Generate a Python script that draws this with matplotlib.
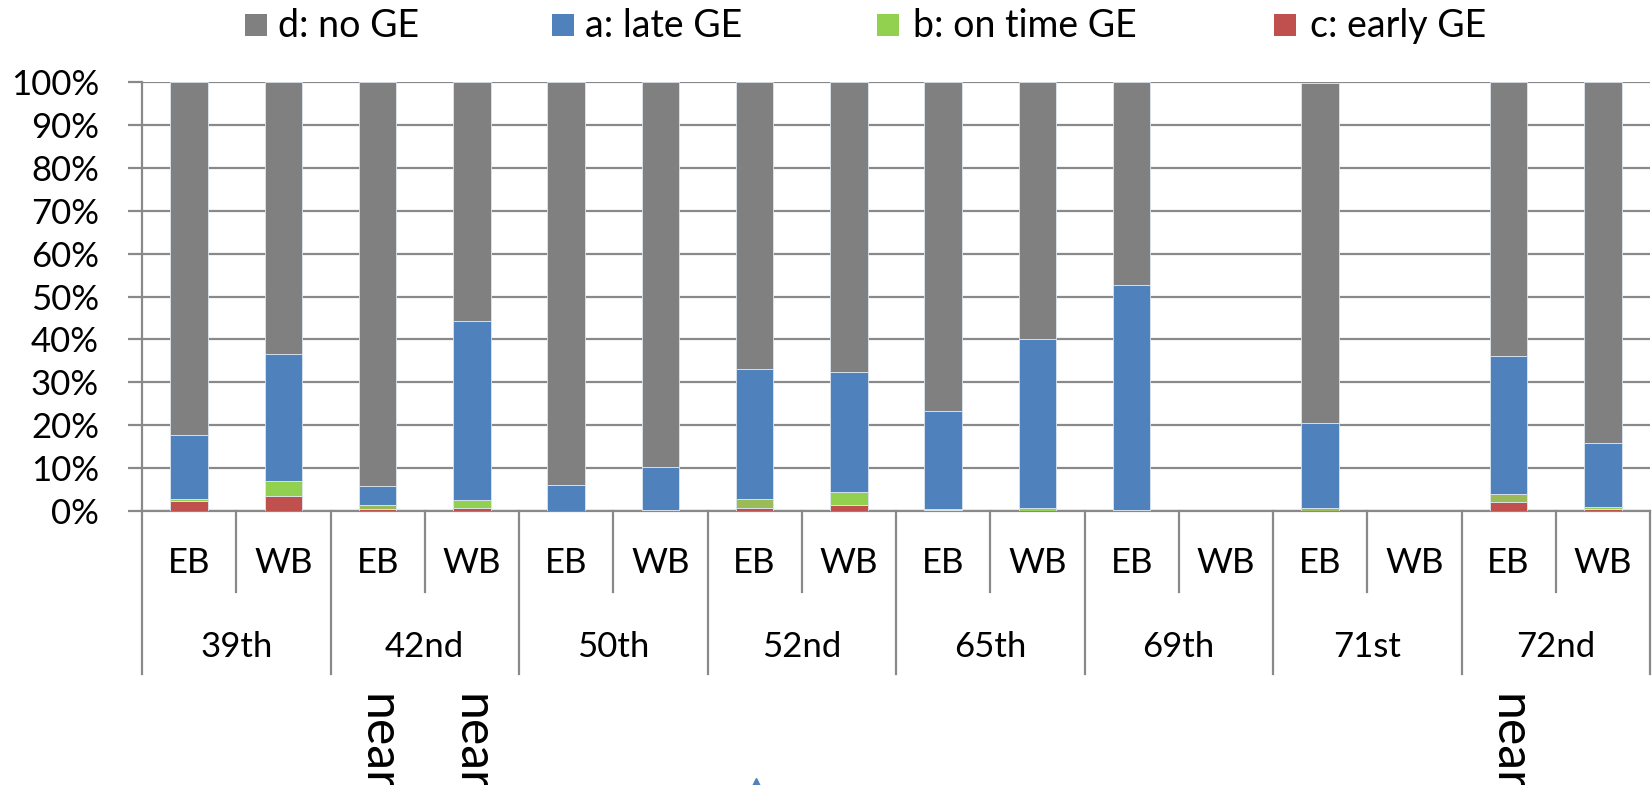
import matplotlib
matplotlib.use("Agg")
import matplotlib.pyplot as plt
import matplotlib.transforms as mtransforms
from matplotlib.patches import Rectangle
from matplotlib.lines import Line2D
import numpy as np

plt.rcParams['font.family'] = ['Lato', 'DejaVu Sans']

# ---- data -------------------------------------------------------------
streets = ["39th", "42nd", "50th", "52nd", "65th", "69th", "71st", "72nd"]
directions = ["EB", "WB"]

# share of trips (%) per street/direction, slots ordered 39th EB, 39th WB, ...
early_ge = [2.3, 3.6, 0.5, 0.8, 0.0, 0.0, 0.7, 1.4, 0.2, 0.0, 0.0, 0.0, 0.0, 0.0, 2.2, 0.5]
ontime_ge = [0.6, 3.4, 0.9, 1.8, 0.1, 0.3, 2.2, 3.0, 0.3, 0.6, 0.2, 0.0, 0.6, 0.0, 1.7, 0.4]
late_ge = [14.8, 29.6, 4.5, 41.6, 6.0, 9.9, 30.3, 28.0, 22.8, 39.4, 52.4, 0.0, 19.8, 0.0, 32.2, 15.0]
no_ge = [82.3, 63.4, 94.1, 55.8, 93.9, 89.8, 66.8, 67.6, 76.7, 60.0, 47.4, 0.0, 79.4, 0.0, 63.9, 84.1]

series_labels = ["d: no GE", "a: late GE", "b: on time GE", "c: early GE"]
near_slots = [2, 3, 14]
near_text = "near"

# ---- styling ----------------------------------------------------------
W, H, DPI = 1652, 785, 100
GRAY = "#808080"
BLUE = "#4F81BD"
GREEN = "#92D050"
OLIVE = "#9BBB59"
RED = "#C0504D"
LINE = "#898989"
FS = 25

fig = plt.figure(figsize=(W / DPI, H / DPI), dpi=DPI)


def fx(px):
    return px / W


def fy(py):
    return 1 - py / H


ax_left, ax_right, ax_top, ax_bot = 142, 1650, 82, 511
ax = fig.add_axes([fx(ax_left), fy(ax_bot), fx(ax_right - ax_left), (ax_bot - ax_top) / H])

n = len(early_ge)
x = np.arange(n)
bw = 0.40

green_colors = [OLIVE if i in (2, 6, 12, 14) else GREEN for i in range(n)]

bottom = np.zeros(n)
for vals, col in [(early_ge, RED), (ontime_ge, green_colors), (late_ge, BLUE), (no_ge, GRAY)]:
    v = np.array(vals)
    ax.bar(x, v, bw, bottom=bottom, color=col, edgecolor="#dde6f0", linewidth=0.6, zorder=3)
    bottom += v

ax.set_xlim(-0.5, n - 0.5)
ax.set_ylim(0, 100)
ax.set_yticks(np.arange(0, 101, 10))
ax.set_yticklabels([f"{t}%" for t in range(0, 101, 10)], fontsize=FS)
ax.yaxis.grid(True, color=LINE, linewidth=1.6, zorder=0)
ax.set_axisbelow(True)
ax.tick_params(axis="y", direction="out", length=10, width=1.6, color=LINE, pad=21)
ax.set_xticks([])
for s in ["top", "right"]:
    ax.spines[s].set_visible(False)
for s in ["left", "bottom"]:
    ax.spines[s].set_color(LINE)
    ax.spines[s].set_linewidth(1.6)

# ---- two-level category table under the axis --------------------------
trans = mtransforms.blended_transform_factory(ax.transData, ax.transAxes)
h_ax = ax_bot - ax_top


def ay(py):
    return (ax_bot - py) / h_ax


for k in range(n + 1):
    end = 674 if k % 2 == 0 else 592
    ax.plot([k - 0.5, k - 0.5], [0, ay(end)], color=LINE, linewidth=1.6,
            transform=trans, clip_on=False, zorder=1)

for i in range(n):
    ax.text(i, ay(563), directions[i % 2], transform=trans, ha="center", va="center",
            fontsize=FS, clip_on=False)
for g, name in enumerate(streets):
    ax.text(2 * g + 0.5, ay(647), name, transform=trans, ha="center", va="center",
            fontsize=FS, clip_on=False)

for i in near_slots:
    ax.text(i, ay(694), near_text, transform=trans, ha="center", va="top",
            rotation=-90, fontsize=36, clip_on=False)

# ---- legend -----------------------------------------------------------
legend_items = [(series_labels[0], GRAY, 245, 278),
                (series_labels[1], BLUE, 552, 585),
                (series_labels[2], GREEN, 877, 913),
                (series_labels[3], RED, 1274, 1310)]
for label, col, sx, tx in legend_items:
    fig.add_artist(Rectangle((fx(sx), fy(36)), fx(22), 22 / H, transform=fig.transFigure,
                             facecolor=col, edgecolor="none"))
    fig.text(fx(tx), fy(37), label, fontsize=27, ha="left", va="baseline")

# small arrow head at the bottom edge
fig.add_artist(Line2D([fx(756)], [fy(785)], marker="^", markersize=10, color=BLUE,
                      linestyle="none", transform=fig.transFigure))

fig.savefig("out.png", dpi=DPI)
